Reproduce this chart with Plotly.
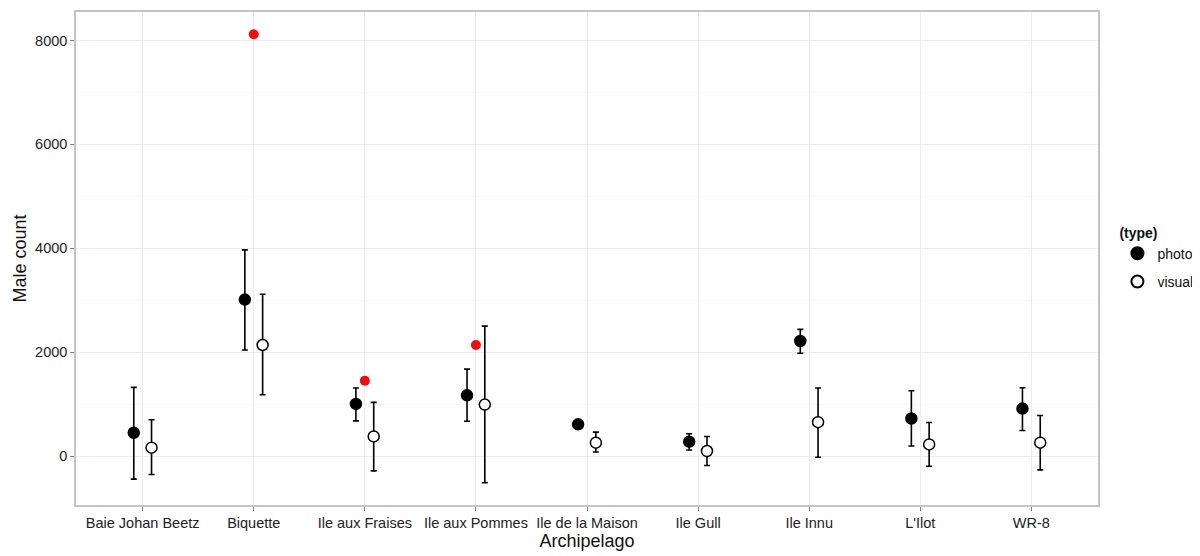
import plotly.graph_objects as go

archipelagos = ["Baie Johan Beetz", "Biquette", "Ile aux Fraises", "Ile aux Pommes",
                "Ile de la Maison", "Ile Gull", "Ile Innu", "L'Ilot", "WR-8"]

photo_mean = [453, 3015, 1008, 1172, 615, 281, 2218, 727, 918]
photo_upper = [1325, 3971, 1313, 1677, 615, 434, 2441, 1262, 1319]
photo_lower = [-440, 2046, 682, 675, 615, 120, 1982, 197, 497]

visual_mean = [166, 2141, 382, 994, 262, 101, 656, 229, 262]
visual_upper = [702, 3117, 1038, 2505, 465, 382, 1313, 650, 784]
visual_lower = [-350, 1185, -281, -510, 82, -178, -19, -191, -262]

red_cats = ["Biquette", "Ile aux Fraises", "Ile aux Pommes"]
red_vals = [8120, 1453, 2141]

dodge = 0.08
idx = {c: i + 1 for i, c in enumerate(archipelagos)}
xs = [idx[c] for c in archipelagos]

fig = go.Figure()

def add_series(name, mean, upper, lower, offset, fill):
    fig.add_trace(go.Scatter(
        x=[x + offset for x in xs], y=mean, mode="markers", name=name,
        legendgroup=name,
        marker=dict(size=11, color=fill, line=dict(color="black", width=1.5)),
        error_y=dict(type="data", symmetric=False,
                     array=[u - m for u, m in zip(upper, mean)],
                     arrayminus=[m - l for m, l in zip(mean, lower)],
                     color="black", thickness=1.6, width=3),
        customdata=archipelagos,
    ))

add_series("photo", photo_mean, photo_upper, photo_lower, -dodge, "black")
add_series("visual", visual_mean, visual_upper, visual_lower, dodge, "white")

fig.add_trace(go.Scatter(
    x=[idx[c] for c in red_cats], y=red_vals, mode="markers", showlegend=False,
    marker=dict(size=10, color="#f20d0d"),
))

fig.update_layout(
    width=1192, height=548,
    margin=dict(l=68, r=99, t=2, b=51),
    paper_bgcolor="white", plot_bgcolor="white",
    font=dict(family="Liberation Sans, Arial, sans-serif", color="#333333", size=14),
    legend=dict(title=dict(text="<b>(type)</b>", font=dict(size=14, color="#111")),
                x=1.019, y=0.50, xanchor="left", yanchor="middle",
                font=dict(size=14, color="#111"), itemsizing="constant",
                tracegroupgap=7, itemwidth=30),
    showlegend=True,
)

fig.update_xaxes(
    range=[0.4, 9.6], tickmode="array", tickvals=xs, ticktext=archipelagos,
    showgrid=True, gridcolor="#ececec", gridwidth=1,
    ticks="outside", ticklen=4, tickcolor="#7f7f7f",
    tickfont=dict(size=14.5, color="#222"),
    title=dict(text="Archipelago", font=dict(size=18, color="#111"), standoff=0),
    showline=True, linecolor="#c4c4c4", linewidth=1.5, mirror=True, zeroline=False,
)
fig.update_yaxes(
    range=[-937, 8547], tickmode="array", tickvals=[0, 2000, 4000, 6000, 8000],
    showgrid=True, gridcolor="#ececec", gridwidth=1,
    minor=dict(tickvals=[-1000, 1000, 3000, 5000, 7000], showgrid=True, gridcolor="#f6f6f6", ticks=""),
    ticks="outside", ticklen=4, tickcolor="#7f7f7f",
    tickfont=dict(size=14.5, color="#222"),
    title=dict(text="Male count", font=dict(size=18, color="#111"), standoff=4),
    showline=True, linecolor="#c4c4c4", linewidth=1.5, mirror=True, zeroline=False,
)

fig.write_html("out.html")
